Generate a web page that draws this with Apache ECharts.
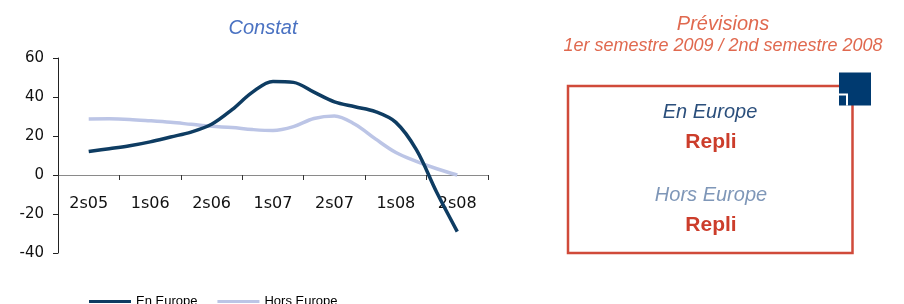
<!DOCTYPE html>
<html>
<head>
<meta charset="utf-8">
<script src="https://cdn.jsdelivr.net/npm/echarts@6/dist/echarts.min.js"></script>
<style>
  html, body { margin: 0; padding: 0; background: #fff; }
  #main { width: 904px; height: 304px; }
</style>
</head>
<body>
<div id="main"></div>
<script>
// semestres affichés sur l'axe
var semestres = ['2s05', '1s06', '2s06', '1s07', '2s07', '1s08', '2s08'];
// valeurs relevées tous les 2 mois (3 points par semestre), de 2s05 à 2s08
var enEurope = [12, 13.5, 15, 17, 19.5, 22, 26, 33.5, 42.5, 48, 47.5, 42.5, 37.5, 35, 32.5, 27, 13, -9, -29];
var horsEurope = [28.7, 28.8, 28.5, 27.8, 27, 26, 25, 24.3, 23.3, 22.8, 24.8, 29, 30.3, 26, 18.5, 11.5, 7, 3.2, 0];
var yTicks = { min: -40, max: 60, step: 20 };

var ptsParSemestre = 3;

function toPairs(arr) {
  return arr.map(function (v, i) { return [i, v]; });
}

var option = {
  animation: false,
  backgroundColor: '#fff',
  title: [
    {
      text: 'Constat',
      left: 258, top: 13, textAlign: 'center',
      textStyle: { fontFamily: 'Liberation Sans', fontStyle: 'italic', fontWeight: 'normal', fontSize: 20, color: '#4a72c2' }
    },
    {
      text: 'Prévisions',
      subtext: '1er semestre 2009 / 2nd semestre 2008',
      left: 718, top: 9, textAlign: 'center', itemGap: 3,
      textStyle: { fontFamily: 'Liberation Sans', fontStyle: 'italic', fontWeight: 'normal', fontSize: 20, color: '#e0694f' },
      subtextStyle: { fontFamily: 'Liberation Sans', fontStyle: 'italic', fontSize: 18, color: '#e0694f' }
    }
  ],
  legend: {
    left: 89, top: 295, padding: 0,
    icon: 'rect', itemWidth: 42, itemHeight: 3, itemGap: 20,
    textStyle: { fontFamily: 'Liberation Sans', fontSize: 13, color: '#000', lineHeight: 13 },
    data: ['En Europe', 'Hors Europe']
  },
  grid: { left: 58, right: 416, top: 58, bottom: 51 },
  xAxis: [
    {
      type: 'category',
      data: semestres,
      boundaryGap: true,
      position: 'bottom',
      offset: -78,
      axisLine: { onZero: false, lineStyle: { color: '#8a8a8a', width: 1 } },
      axisTick: { show: true, length: 5, lineStyle: { color: '#333' } },
      axisLabel: { margin: 21, fontFamily: 'DejaVu Sans', fontSize: 16, color: '#111' },
      splitLine: { show: false }
    },
    {
      type: 'value',
      show: false,
      min: -1.5,
      max: semestres.length * ptsParSemestre - 1.5
    }
  ],
  yAxis: {
    type: 'value',
    min: yTicks.min, max: yTicks.max, interval: yTicks.step,
    axisLine: { show: true, onZero: false, lineStyle: { color: '#222' } },
    axisTick: { show: true, length: 5, lineStyle: { color: '#222' } },
    axisLabel: { margin: 14, fontFamily: 'DejaVu Sans', fontSize: 15, color: '#111' },
    splitLine: { show: false }
  },
  series: [
    {
      name: 'En Europe',
      type: 'line',
      xAxisIndex: 1,
      data: toPairs(enEurope),
      smooth: 0.35,
      showSymbol: false,
      lineStyle: { color: '#0e3c62', width: 3.5 },
      itemStyle: { color: '#0e3c62' },
      z: 3
    },
    {
      name: 'Hors Europe',
      type: 'line',
      xAxisIndex: 1,
      data: toPairs(horsEurope),
      smooth: 0.35,
      showSymbol: false,
      lineStyle: { color: '#bcc5e6', width: 3.5 },
      itemStyle: { color: '#bcc5e6' },
      z: 2
    }
  ],
  graphic: [
    {
      type: 'rect',
      shape: { x: 568, y: 86, width: 284.5, height: 167 },
      style: { fill: 'none', stroke: '#d04a3a', lineWidth: 2.5 }
    },
    {
      type: 'rect',
      shape: { x: 839, y: 72.5, width: 32, height: 33 },
      style: { fill: '#003a70' }
    },
    {
      type: 'polyline',
      shape: { points: [[839, 94.5], [847, 94.5], [847, 105.5]] },
      style: { stroke: '#fff', lineWidth: 2, fill: 'none' }
    },
    {
      type: 'text', x: 710, y: 112,
      style: { text: 'En Europe', textAlign: 'center', textVerticalAlign: 'middle',
        font: 'italic 20px "Liberation Sans"', fill: '#2b4f7c' }
    },
    {
      type: 'text', x: 711, y: 142,
      style: { text: 'Repli', textAlign: 'center', textVerticalAlign: 'middle',
        font: 'bold 21px "Liberation Sans"', fill: '#cc3d2b' }
    },
    {
      type: 'text', x: 711, y: 195,
      style: { text: 'Hors Europe', textAlign: 'center', textVerticalAlign: 'middle',
        font: 'italic 20px "Liberation Sans"', fill: '#7f97b8' }
    },
    {
      type: 'text', x: 711, y: 225,
      style: { text: 'Repli', textAlign: 'center', textVerticalAlign: 'middle',
        font: 'bold 21px "Liberation Sans"', fill: '#cc3d2b' }
    }
  ]
};

var myChart = echarts.init(document.getElementById('main'));
myChart.setOption(option, true);
</script>
</body>
</html>
